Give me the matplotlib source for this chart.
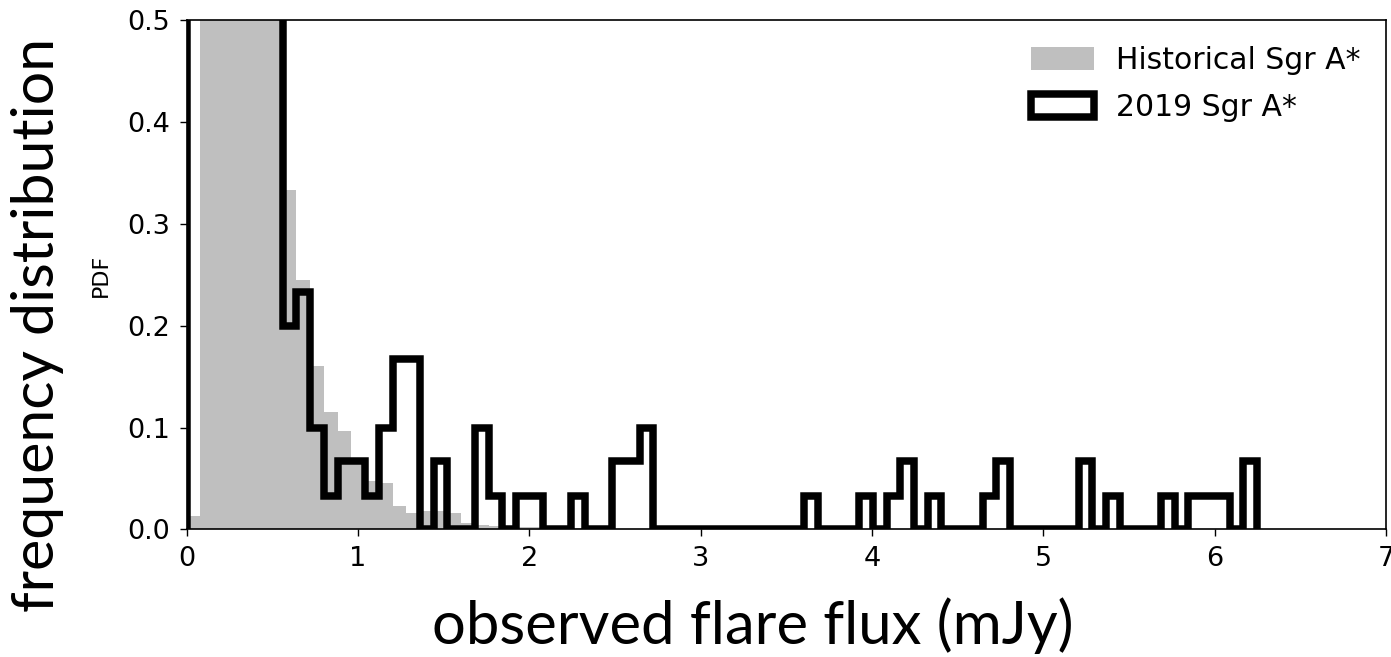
import numpy as np
import matplotlib
matplotlib.use("Agg")
import matplotlib.pyplot as plt
from matplotlib.patches import Patch

# Histogram binning shared by both samples (mJy)
bin_start = 0.0
bin_width = 0.0801
n_bins = 78

# 2019 Sgr A* flare-flux PDF, one value per bin
pdf_2019 = [
    1.20, 2.40, 2.20, 1.70, 1.20, 0.85, 0.64,
    0.200, 0.233, 0.100, 0.033, 0.067, 0.067, 0.033, 0.100, 0.167, 0.167,
    0.0, 0.067, 0.0, 0.0, 0.100, 0.033, 0.0, 0.033, 0.033, 0.0,
    0.0, 0.033, 0.0, 0.0, 0.067, 0.067, 0.100, 0.0, 0.0, 0.0,
    0.0, 0.0, 0.0, 0.0, 0.0, 0.0, 0.0, 0.0, 0.033, 0.0,
    0.0, 0.0, 0.033, 0.0, 0.033, 0.067, 0.0, 0.033, 0.0, 0.0,
    0.0, 0.033, 0.067, 0.0, 0.0, 0.0, 0.0, 0.0, 0.067, 0.0,
    0.033, 0.0, 0.0, 0.0, 0.033, 0.0, 0.033, 0.033, 0.033, 0.0, 0.067,
]

# Historical Sgr A* flare-flux PDF on the same bins
pdf_hist = [
    0.013, 1.20, 2.60, 2.60, 2.10, 1.60, 1.20,
    0.333, 0.245, 0.160, 0.115, 0.097, 0.065, 0.047, 0.045, 0.023, 0.016,
    0.018, 0.018, 0.016, 0.006, 0.004, 0.003, 0.003, 0.002, 0.002, 0.001,
    0.001, 0.001, 0.001, 0.001,
] + [0.0] * 47

x_ticks = [0, 1, 2, 3, 4, 5, 6, 7]
y_ticks = [0.0, 0.1, 0.2, 0.3, 0.4, 0.5]

edges = bin_start + bin_width * np.arange(n_bins + 1)

fig = plt.figure(figsize=(13.91, 6.57), dpi=100)
ax = fig.add_axes([0.1342, 0.1944, 0.8622, 0.7744])

ax.stairs(pdf_hist, edges, fill=True, facecolor="#bfbfbf", edgecolor="none",
          linewidth=0)
ax.stairs(pdf_2019, edges, fill=False, edgecolor="black", linewidth=5.4,
          joinstyle="miter")

ax.set_xlim(0, 7)
ax.set_ylim(0, 0.5)
ax.set_xticks(x_ticks)
ax.set_xticklabels([str(t) for t in x_ticks])
ax.set_yticks(y_ticks)
ax.set_yticklabels([f"{t:.1f}" for t in y_ticks])
ax.tick_params(labelsize=19.5, length=5, width=1, pad=7)
for s in ax.spines.values():
    s.set_linewidth(1.2)

ax.set_ylabel("PDF", fontsize=16, labelpad=12)

handles = [
    Patch(facecolor="#bfbfbf", edgecolor="none", label="Historical Sgr A*"),
    Patch(facecolor="white", edgecolor="black", linewidth=5.4,
          joinstyle="miter", label="2019 Sgr A*"),
]
ax.legend(handles=handles, loc="upper right", frameon=False, fontsize=21.5,
          handlelength=2.1, handleheight=0.8, handletextpad=0.75,
          labelspacing=0.6, borderaxespad=0.45)

fig.text(0.027, 0.506, "frequency distribution", rotation=90, ha="center",
         va="center", fontsize=42.5, family=["Lato", "DejaVu Sans"])
fig.text(0.541, 0.048, "observed flare flux (mJy)", ha="center", va="center",
         fontsize=43, family=["Lato", "DejaVu Sans"])

fig.savefig("out.png", dpi=100)
